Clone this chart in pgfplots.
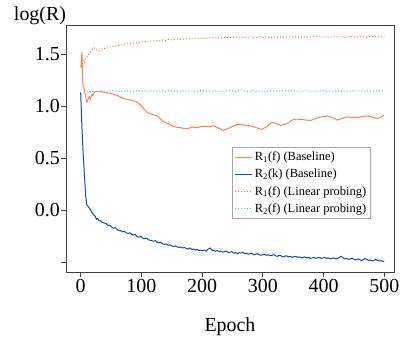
\documentclass[border=0pt]{standalone}
\usepackage{pgfplots}
\pgfplotsset{compat=1.18}
\usepackage{fontspec}
\setmainfont{Liberation Serif}
\usetikzlibrary{calc}
\definecolor{corange}{HTML}{FF7F50}
\definecolor{corangedot}{HTML}{FF6A3D}
\definecolor{cblue}{HTML}{0B4FA8}
\definecolor{ccyan}{HTML}{2EC8F5}
\begin{document}
\begin{tikzpicture}[x=1bp,y=1bp]
\path (0,0) rectangle (404,339);
\begin{axis}[
  name=ax,
  at={(66bp,67bp)}, anchor=south west,
  scale only axis, width=328bp, height=247bp,
  xmin=-24.2, xmax=516, ymin=-0.596, ymax=1.779,
  xtick={0,100,200,300,400,500},
  xticklabels={0,100,200,300,400,500},
  ytick={-0.5,0,0.5,1.0,1.5},
  yticklabels={,0.0,0.5,1.0,1.5},
  tick align=outside, major tick length=5bp,
  xtick pos=bottom, ytick pos=left,
  axis line style={black!75, line width=0.8pt},
  tick style={black!75, line width=0.8pt},
  tick label style={font=\rmfamily\fontsize{20}{22}\selectfont},
  xticklabel style={inner sep=2bp},
  yticklabel style={inner sep=1bp},
  xlabel={Epoch},
  xlabel style={font=\rmfamily\fontsize{20}{22}\selectfont, yshift=-20bp},
  legend style={at={(0.506,0.506)}, anchor=north west, draw=black!35, line width=0.8pt,
    font=\rmfamily\fontsize{12.5}{13.5}\selectfont, inner sep=2.5bp, row sep=3bp, cells={anchor=west}},
  legend image code/.code={\draw[#1] (0bp,0bp) -- (17bp,0bp);},
]
\addplot[corange, line width=1pt] coordinates {
(0,1.37) (1,1.40) (2,1.52) (3,1.30) (4,1.19) (5,1.18) (6,1.16) (8,1.10) (10,1.04) (12,1.06)
(14,1.09) (16,1.07) (18,1.11) (20,1.10) (22,1.13) (25,1.14) (30,1.14) (35,1.135) (40,1.13)
(45,1.125) (50,1.12) (55,1.11) (60,1.10) (65,1.09) (70,1.075) (75,1.065) (80,1.06) (85,1.055)
(90,1.045) (95,1.03) (100,1.00) (105,0.965) (110,0.935) (115,0.925) (120,0.915) (125,0.91)
(130,0.885) (135,0.855) (140,0.84) (145,0.83) (150,0.81) (155,0.80) (160,0.795) (165,0.79)
(170,0.785) (175,0.78) (180,0.79) (185,0.80) (190,0.79) (197,0.80) (204,0.805) (210,0.80)
(219,0.81) (228,0.785) (235,0.765) (245,0.79) (252,0.81) (260,0.825) (270,0.815) (279,0.81)
(290,0.79) (298,0.775) (306,0.80) (315,0.845) (322,0.83) (329,0.815) (340,0.83) (347,0.86)
(353,0.875) (365,0.87) (378,0.86) (392,0.89) (405,0.905) (414,0.89) (422,0.865) (430,0.88)
(438,0.895) (446,0.89) (455,0.89) (465,0.90) (474,0.905) (481,0.89) (488,0.88) (494,0.89) (499,0.91)
};
\addlegendentry{R\textsubscript{1}(f) (Baseline)}
\addplot[cblue, line width=1pt] coordinates {
(0,1.13) (2,0.80) (4,0.55) (6,0.35) (8,0.15) (10,0.05) (12,0.035) (14,0.02) (16,0.005)
(18,-0.02) (20,-0.035) (22,-0.05) (24,-0.06) (26,-0.09) (28,-0.08) (30,-0.10) (33,-0.105)
(36,-0.12) (39,-0.125) (42,-0.13) (45,-0.15) (48,-0.145) (51,-0.165) (54,-0.175) (57,-0.17)
(60,-0.19) (63,-0.195) (66,-0.20) (69,-0.21) (72,-0.205) (75,-0.22) (78,-0.225) (81,-0.22)
(84,-0.235) (87,-0.24) (90,-0.235) (93,-0.255) (96,-0.26) (99,-0.255) (102,-0.27) (105,-0.275)
(108,-0.27) (111,-0.285) (114,-0.29) (117,-0.295) (120,-0.30) (123,-0.295) (126,-0.31)
(129,-0.315) (132,-0.31) (135,-0.325) (138,-0.33) (141,-0.325) (144,-0.34) (147,-0.335)
(150,-0.345) (153,-0.35) (156,-0.345) (159,-0.355) (162,-0.36) (165,-0.355) (168,-0.365)
(171,-0.36) (174,-0.37) (177,-0.375) (180,-0.365) (183,-0.38) (186,-0.375) (189,-0.385)
(192,-0.38) (195,-0.39) (198,-0.385) (201,-0.39) (204,-0.385) (207,-0.395) (210,-0.375)
(213,-0.365) (216,-0.385) (219,-0.39) (222,-0.395) (225,-0.39) (228,-0.40) (231,-0.395)
(234,-0.405) (237,-0.40) (240,-0.395) (243,-0.41) (246,-0.405) (249,-0.40) (252,-0.415)
(255,-0.41) (258,-0.42) (261,-0.41) (264,-0.415) (267,-0.405) (270,-0.42) (273,-0.415)
(276,-0.425) (279,-0.42) (282,-0.415) (285,-0.43) (288,-0.425) (291,-0.42) (294,-0.43)
(297,-0.435) (300,-0.43) (303,-0.425) (306,-0.435) (309,-0.43) (312,-0.44) (315,-0.435)
(318,-0.43) (321,-0.44) (324,-0.445) (327,-0.435) (330,-0.44) (333,-0.45) (336,-0.445)
(339,-0.44) (342,-0.45) (345,-0.445) (348,-0.455) (351,-0.45) (354,-0.445) (357,-0.455)
(360,-0.45) (363,-0.46) (366,-0.455) (369,-0.45) (372,-0.46) (375,-0.455) (378,-0.465)
(381,-0.46) (384,-0.455) (387,-0.465) (390,-0.46) (393,-0.455) (396,-0.465) (399,-0.46)
(402,-0.455) (405,-0.465) (408,-0.46) (411,-0.47) (414,-0.465) (417,-0.46) (420,-0.47)
(423,-0.465) (426,-0.455) (429,-0.445) (432,-0.46) (435,-0.47) (438,-0.465) (441,-0.475)
(444,-0.47) (447,-0.465) (450,-0.475) (453,-0.48) (456,-0.47) (459,-0.475) (462,-0.485)
(465,-0.48) (468,-0.465) (471,-0.475) (474,-0.485) (477,-0.48) (480,-0.49) (483,-0.485)
(486,-0.475) (489,-0.485) (492,-0.49) (495,-0.485) (498,-0.495) (500,-0.49)
};
\addlegendentry{R\textsubscript{2}(k) (Baseline)}
\addplot[corangedot, line width=1pt, dash pattern=on 1bp off 2bp] coordinates {
(0,1.38) (2,1.40) (4,1.44) (6,1.42) (8,1.46) (10,1.47) (12,1.49) (14,1.50) (16,1.52) (18,1.53)
(20,1.55) (22,1.56) (24,1.555) (26,1.54) (28,1.535) (30,1.53) (33,1.54) (36,1.55) (39,1.555)
(42,1.55) (45,1.565) (48,1.57) (51,1.575) (55,1.57) (60,1.58) (65,1.585) (70,1.59) (75,1.595)
(80,1.60) (85,1.605) (90,1.61) (95,1.605) (100,1.615) (105,1.62) (110,1.615) (115,1.625)
(120,1.625) (125,1.63) (130,1.625) (135,1.635) (140,1.63) (145,1.64) (150,1.635) (155,1.64)
(160,1.645) (165,1.64) (170,1.645) (175,1.65) (180,1.645) (185,1.65) (190,1.655) (195,1.65)
(200,1.655) (205,1.65) (210,1.655) (215,1.66) (220,1.655) (225,1.65) (230,1.66) (235,1.655)
(240,1.66) (245,1.655) (250,1.66) (255,1.665) (260,1.655) (265,1.66) (270,1.66) (275,1.655)
(280,1.665) (285,1.66) (290,1.66) (295,1.665) (300,1.66) (305,1.665) (310,1.66) (315,1.66)
(320,1.665) (325,1.66) (330,1.665) (335,1.66) (340,1.665) (345,1.665) (350,1.66) (355,1.665)
(360,1.66) (365,1.665) (370,1.665) (375,1.66) (380,1.665) (385,1.67) (390,1.665) (395,1.66)
(400,1.665) (405,1.665) (410,1.66) (415,1.665) (420,1.67) (425,1.665) (430,1.665) (435,1.66)
(440,1.665) (445,1.67) (450,1.665) (455,1.665) (460,1.67) (465,1.665) (470,1.66) (475,1.67)
(480,1.665) (485,1.67) (490,1.665) (495,1.67) (500,1.67)
};
\addlegendentry{R\textsubscript{1}(f) (Linear probing)}
\addplot[ccyan, line width=1pt, dash pattern=on 1bp off 2bp] coordinates {
(0,1.13) (3,1.13) (6,1.135) (9,1.14) (12,1.135) (15,1.14) (18,1.145) (21,1.135) (24,1.14)
(27,1.145) (30,1.14) (35,1.15) (40,1.145) (45,1.14) (50,1.15) (55,1.145) (60,1.14) (65,1.145)
(70,1.14) (75,1.15) (80,1.145) (85,1.14) (90,1.145) (95,1.15) (100,1.14) (105,1.145) (110,1.14)
(115,1.15) (120,1.145) (125,1.14) (130,1.145) (135,1.15) (140,1.14) (145,1.145) (150,1.15)
(155,1.14) (160,1.145) (165,1.14) (170,1.15) (175,1.145) (180,1.14) (185,1.145) (190,1.135)
(195,1.145) (200,1.15) (205,1.14) (210,1.145) (215,1.14) (220,1.15) (225,1.145) (230,1.14)
(235,1.135) (240,1.145) (245,1.15) (250,1.145) (255,1.14) (260,1.15) (265,1.155) (270,1.145)
(275,1.14) (280,1.145) (285,1.15) (290,1.14) (295,1.145) (300,1.14) (305,1.135) (310,1.145)
(315,1.15) (320,1.145) (325,1.14) (330,1.145) (335,1.15) (340,1.14) (345,1.145) (350,1.15)
(355,1.145) (360,1.14) (365,1.145) (370,1.15) (375,1.145) (380,1.14) (385,1.145) (390,1.14)
(395,1.145) (400,1.15) (405,1.14) (410,1.145) (415,1.14) (420,1.145) (425,1.15) (430,1.14)
(435,1.145) (440,1.14) (445,1.145) (450,1.15) (455,1.14) (460,1.145) (465,1.14) (470,1.145)
(475,1.15) (480,1.14) (485,1.145) (490,1.14) (495,1.15) (500,1.145)
};
\addlegendentry{R\textsubscript{2}(f) (Linear probing)}
\end{axis}
\node[anchor=base, font=\rmfamily\fontsize{20}{22}\selectfont] at (40,318) {log(R)};
\end{tikzpicture}
\end{document}
